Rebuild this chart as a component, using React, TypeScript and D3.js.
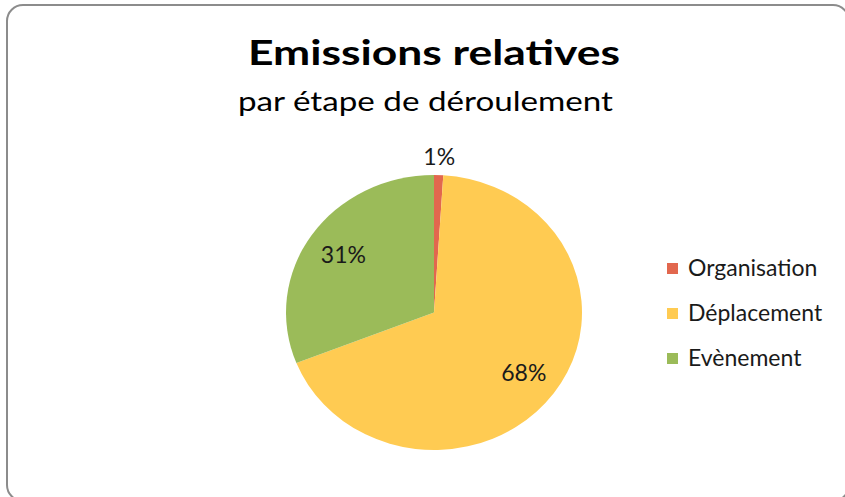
import React from "react";
import * as d3 from "d3";

const categories = ["Organisation", "Déplacement", "Evènement"];
const values = [1, 68, 31];
const colors = ["#E2674E", "#FFCB52", "#9BBB59"];
const title = "Emissions relatives";
const subtitle = "par étape de déroulement";

const W = 845;
const H = 497;
const cx = 434;
const cy = 312.5;
const rx = 148;
const ry = 137.5;

const FONT = "Lato, 'Open Sans', sans-serif";

export default function App() {
  const pie = d3.pie<number>().sort(null).value((d) => d);
  const arcs = pie(values);
  const arcGen = d3.arc<d3.PieArcDatum<number>>().innerRadius(0).outerRadius(rx);
  const total = d3.sum(values);
  const fmt = (v: number) => `${Math.round((v / total) * 100)}%`;
  const labelRadius = [rx * 1.13, rx * 0.75, rx * 0.74];
  const sy = ry / rx;

  return (
    <svg
      width={W}
      height={H}
      style={{ position: "absolute", left: 0, top: 0, display: "block" }}
    >
      <rect x={0} y={0} width={W} height={H} fill="#fff" />
      <rect
        x={7}
        y={5}
        width={842}
        height={496}
        rx={16}
        ry={16}
        fill="#fff"
        stroke="#8c8c8c"
        strokeWidth={2}
      />
      <text
        x={434}
        y={65}
        textAnchor="middle"
        fontFamily={FONT}
        fontWeight="bold"
        fontSize={35}
        fill="#000"
        textLength={372}
        lengthAdjust="spacingAndGlyphs"
      >
        {title}
      </text>
      <text
        x={425.5}
        y={111}
        textAnchor="middle"
        fontFamily={FONT}
        fontSize={27}
        fill="#000"
        textLength={375}
        lengthAdjust="spacingAndGlyphs"
      >
        {subtitle}
      </text>
      <g transform={`translate(${cx},${cy}) scale(1,${sy})`}>
        {arcs.map((a, i) => (
          <path key={categories[i]} d={arcGen(a) || ""} fill={colors[i]} />
        ))}
      </g>
      {arcs.map((a, i) => {
        const mid = (a.startAngle + a.endAngle) / 2;
        const r = labelRadius[i];
        const x = cx + Math.sin(mid) * r;
        const y = cy - Math.cos(mid) * r * sy;
        return (
          <text
            key={"l" + i}
            x={x}
            y={y + 8}
            textAnchor="middle"
            fontFamily={FONT}
            fontSize={23}
            fill="#1a1a1a"
          >
            {fmt(values[i])}
          </text>
        );
      })}
      {categories.map((c, i) => (
        <g key={"lg" + c} transform={`translate(667,${263 + i * 45})`}>
          <rect x={0} y={0} width={11} height={11} fill={colors[i]} />
          <text
            x={21}
            y={13}
            fontFamily={FONT}
            fontSize={23}
            fill="#1a1a1a"
          >
            {c}
          </text>
        </g>
      ))}
    </svg>
  );
}
